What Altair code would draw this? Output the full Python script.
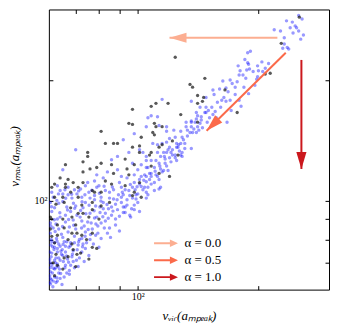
import math
import altair as alt
import pandas as pd

# ---- data (v_vir, v_max) ----
blue_points = [
    (252,290),(235,281),(240,270),(249,270),(219,267),(227,265),(252,265),(259,259),(232,255),(255,253),
    (232,246),(236,241),(238,239),(247,273),(257,284),(243,279),
    (191,236),(178,217),(180,211),(189,219),(190,213),(199,217),(200,211),(208,214),(205,210),(179,206),
    (199,204),(198,201),(184,192),(189,185),(179,178),(181,172),(163,199),(170,200),(172,196),(160,190),
    (168,187),(166,177),(170,178),(162,178),(161,171),(156,167),(153,171),(148,171),(136,177),(115,179),
    (141,163),(140,160),(157,161),(167,157),(185,225),(175,184),(151,161),(147,166),(171,168),(177,198),
    (186,202),(196,194),(166,191),(155,184),(149,157),(187,212),(188,221),(154,189),(148,181),(143,171),
    (140,166),(148,166),(154,164),(144,159),(136,157),(132,153),(135,148),(140,148),(145,152),(129,144),
    (124,144),(131,139),(125,136),(120,136),(118,132),(122,130),(129,129),(188,234),(204,222),
    (105,153),(113,154),(118,153),(118,149),(123,150),(128,149),(132,157),(136,158),(139,157),(143,156),
    (136,153),(137,148),(133,145),(130,142),(128,139),(125,139),(120,143),(118,140),(115,139),(112,138),
    (109,139),(112,132),(116,132),(119,134),(122,134),(126,136),(129,132),(128,130),(124,130),(120,128),
    (117,127),(114,129),(111,126),(108,126),(105,126),(117,124),(113,124),(110,121),(106,121),(116,119),
    (114,120),(119,119),(108,117),(105,115),(108,115),(112,115),(113,113),(110,111),(106,108),(114,108),
    (113,107),(136,135),(141,153),(142,150),(106,161),(112,162),(108,163),
    (70,134),(98,147),(92,142),(89,129),(86,126.5),(95,132),(101,134),(103,132),(105,129),(97,124),
    (102,123),(105,121),(89,119.5),(84,118),(79,116),(82,114),(91,115),(98,116),(102,115),(105,111.5),
    (101,110),(97,108),(91,108),(87,106.5),(79,108),(75.5,105),(67,103.5),(65,119.5),(72.5,102),(81,102),
    (92,103.5),(99,103.5),(105,105),(105,101.5),(85,101.5),(78,100.5),(68.5,101.5),
    (61,105),(63,109),(65,104),(69.5,106.5),(74,109),(76,101.5),(85,105),(90,111),(93,106.5),(98,111),
    (103,106.5),(106,103.5),(100,119.5),(104,116),(94,114),(91,102),(94,100.5),(97,101.5),(100,99),
    (92,96.5),(98,95),(93,93.5),(90,91.5),
    (63.5,98.5),(66.5,96.5),(74,99),(78.5,97),(82,95.5),(88,98),(93,96.5),(98,97.5),(101,94),(95.5,92),
    (61,94),(66,92),(72,94.5),(79,91),(83,93),(88,90),(92,93.5),(96,91),
    (62.5,87.5),(67.5,86),(72.5,89),(77,85),(81,88),(85,85.5),(88,87),(90,84),
    (60.5,83),(65,81),(74,83.5),(78.5,82),(81,80.5),(84,83),(85.5,81),
    (62,78.5),(64,77),(66.5,79),(71,77.5),(74,76),(77.5,78),(80,76.5),
    (61,74),(63.5,72),(66,74.5),(68.5,72.5),(72.5,74.5),(75.5,73),
    (60.5,70),(62.5,68),(64,71),(66,69),(69,70.5),(71,68.5),
    (60.5,66.5),(62,64.5),(63.5,66),(65.5,64.5),(67.5,67),
    (60.3,62.5),(61.4,61),(63,63),(64.7,61.8),
    (60.3,71.3),(61,69),(62,67.5),(60.3,65),(61.5,63),(63,69.5),(64,64),(62.5,72),(60.3,74.5),(62,76.5),
    (63,74.5),(60.7,77.5),
    (60.8,80),(62.7,80.5),(64.5,82.5),(67,83.5),(69.5,81.5),(71.5,80),(63.5,85),(66,88.5),(69,89.5),
    (70.5,92),(68,94),(64,91),(60.5,88),(62,96),(65,99.5),(70,97),(73,96),(76,93),(75,88.5),(79.5,86.5),
    (83,89),(86,92),(89,95),(82,99),(78,103),(86,96.5),(91,99),(94,97.5),(96.5,95.5),(99,101),(60.5,99),
    (61.5,102),(64,106),(67,108),(70.5,104),(72,107),(75,111),(78,112),(80,109),(83,106),(61.5,85.5),
    (63,90),(66,77),(69,75),(71.5,72),(73.5,70.5),(67.5,65.5),(69.5,68),(65,73),(60.5,68),(62,71),(63,76),
    (65.5,79),(68,78.5),(76,80),(73,78),(79.5,83),(82.5,85.5),
    (95,106),(100,104),(104,108),(108,110),(110,106),(101,113),(107,113),(111,116),(115,118),(118,122),
    (121,125),(125,126),(127,133),(131,135),
    (60.5,64),(61.2,66),(60.8,72.5),(61.8,75.5),(62.3,70),(63.8,67.5),(64.5,73.5),(65.2,70.5),(66.5,66),
    (60.6,62),(62.5,62.5),(61,79),(63.5,78),(64.8,75.5),(66.8,71.5),(68,69),(70.3,71),(67.3,76.5),
    (69.5,78.5),(72.5,80.5),(74.5,78.5),(70,85),(73.5,86.5),(76.5,88),(78,90.5),(80.5,93.5),(84.5,95.5),
    (87,101),(89.5,103.5),(95.5,103),(98.5,106.5),(102,108.5),
    (60.9,63.5),(62.8,64.2),(64.2,65.8),(61.6,67.8),(63.3,68.5),(65.8,68),(67.2,70.2),(68.7,73.5),
    (66.4,72.8),(64.3,74.8),(61.3,76.8),(62.9,79.2),(65.1,77.8),(67.9,77.2),(70.6,75.4),(72.8,76.8),
    (71.2,79),(73.9,81.5),(76.2,82.3),(75.2,84.8),(72.4,85.5),(69.2,86.8),(67.2,89.8),(64.9,86.2),
    (62.2,83.8),(60.7,86.5),(61.9,89.6),(63.9,93.3),(66.8,94.8),(69.6,95.7),(71.8,91),(74.2,92.8),
    (77.8,94.4),(80.4,96.5),(78.6,87.5),(81.8,91.2),(84.4,90.4),(86.7,94.2),(83.8,97.8),(80.9,99.8),
    (75.6,97.4),(72.6,99.4),(69.1,98.5),(66.1,101.4),(62.8,100.2),(60.9,96.6),(63.4,104),(65.8,106.5),
    (68.4,103.8),(71.2,105.8),(73.8,103.5),(76.8,106.2),(80.2,104.4),(82.4,108.6),(86.4,108.2),
    (88.8,100.6),(91.5,105),(95.8,109.8),(99.6,108.4),(103.5,112.5),(107,117),(110.5,118.5),
    (113.5,122),(116.5,129),(121,132),(124,128),(126.5,138),(133,150),(138,151),(144,162),(150,168),
    (158,176),(164,181),(175,192),(183,206),(194,210),(212,220),(230,240),(244,262),
]

black_points = [
    (253,287),(228,247),(214,208),(208,207),(177,166),
    (110,156),(111,153),(115,153),(109,148),(110,146),(122,141),(113,136),(115,138),(108,132),(107,130),
    (126,130),(108,122),(113,117),(120,115),(141,157),
    (124,228),(147,202),(135,195),(137,192),(165,189),(141,183),(146,181),(145,177),(141,175),(108,172),
    (111,175),(119,175),(128,164),
    (95,156),(97,155),(81,149),(83,139),(87,139),(89,139),(101,137),(101,132),(75,132),(75,129),(73,125),
    (66,123),(98,123),(93,127),(81,124),(79,121),(86,123),(76,120),(73,118),(87,117),(94,120),(95,116),
    (64,114),(67,113),(62,110),(66,110),(69,111),(73,111),(83,112),(86,110),(93,109),(101,111),(71,108),
    (61,108),(66,108),(68,105),(77,106),(78,105),(81,105),(97,103),(98,105),(65,102),(62,102),(71,102),
    (97,169),(102,144),(97,136),(102,102),
    (62.5,98),(65.5,99),(72.5,97.5),(77,99),(81,97),(85,99),(68,96),(71,93),(73,93),(77,95),(61,90),
    (65,90),(68.5,91),(75.5,91),(80,90),(63,87),(70,87),(65.5,85.5),(70.5,83),(68.5,83),(72.5,82),(63,82),
    (77,83),(61,81.5),(67,80),(62,78.5),(68.5,78),(69,75.5),(67,72.5),(62.5,73.5),(65.5,72),(70.5,73.5),
    (77,76.5),(75.5,71.5),(63,69),(65,67.5),(62,65),
    (60.5,91),(60.5,85),(61.5,70),(70,68.5),(72,74),(79,76),(74.5,80),
]

alpha_labels = ["0.0", "0.5", "1.0"]
arrow_colors = ["#fcae91", "#fb6a4a", "#cb181d"]
arrow_tail_vvir = [223, 234, 256]
arrow_tail_vmax = [255, 234, 224.5]
arrow_tip_vvir = [120, 148.5, 256]
arrow_tip_vmax = [255, 149.5, 120]

axis_domain = [60, 300]
tick_values = [70, 80, 90, 100, 200]

# ---- tables ----
blue_df = pd.DataFrame(blue_points, columns=["vvir", "vmax"])
black_df = pd.DataFrame(black_points, columns=["vvir", "vmax"])
# both axes span the same decades over the same length, so screen direction = log ratio
angles = [
    math.degrees(math.atan2(math.log10(tx / sx), math.log10(ty / sy))) % 360
    for sx, sy, tx, ty in zip(arrow_tail_vvir, arrow_tail_vmax, arrow_tip_vvir, arrow_tip_vmax)
]
arrow_df = pd.DataFrame({
    "alpha": alpha_labels,
    "alpha_line": alpha_labels,
    "x1": arrow_tail_vvir, "y1": arrow_tail_vmax,
    "x2": arrow_tip_vvir, "y2": arrow_tip_vmax,
    "angle": angles,
})

FONT = "Liberation Serif"
xs = alt.Scale(type="log", domain=axis_domain, nice=False)
ys = alt.Scale(type="log", domain=axis_domain, nice=False)
label_expr = "datum.value == 100 ? '10²' : ''"
common = dict(values=tick_values, offset=-4, tickSize=4, domain=False, grid=False,
              tickColor="black", tickWidth=1)

x_bottom = alt.Axis(orient="bottom", labelExpr=label_expr, labelPadding=2, labelFont=FONT,
                    labelFontSize=10, labelColor="black", labelOverlap=False, labelFlush=False,
                    title="vᵥᵢᵣ(aₘₚₑₐₖ)", titleFont=FONT, titleFontSize=13,
                    titleFontWeight="normal", titleFontStyle="italic", titleColor="black",
                    titleX=140.5, titleY=24, titleBaseline="top", **common)
y_left = alt.Axis(orient="left", labelExpr=label_expr, labelPadding=2, labelFont=FONT,
                  labelFontSize=10, labelColor="black", labelOverlap=False, labelFlush=False,
                  title="vₘₐₓ(aₘₚₑₐₖ)", titleFont=FONT, titleFontSize=13,
                  titleFontWeight="normal", titleFontStyle="italic", titleColor="black",
                  titleX=-31, titleY=147, **common)
x_top = alt.Axis(orient="top", labels=False, title=None, **common)
y_right = alt.Axis(orient="right", labels=False, title=None, **common)

blue = alt.Chart(blue_df).mark_circle(size=12, color="#0000ff", opacity=0.4, clip=True).encode(
    x=alt.X("vvir:Q", scale=xs, axis=x_bottom),
    y=alt.Y("vmax:Q", scale=ys, axis=y_left),
)
black = alt.Chart(black_df).mark_circle(size=11, color="#000000", opacity=0.65, clip=True).encode(
    x=alt.X("vvir:Q", scale=xs, axis=x_top),
    y=alt.Y("vmax:Q", scale=ys, axis=y_right),
)
rules = alt.Chart(arrow_df).mark_rule(strokeWidth=2).encode(
    x=alt.X("x1:Q", scale=xs, axis=None), x2="x2:Q",
    y=alt.Y("y1:Q", scale=ys, axis=None), y2="y2:Q",
    stroke=alt.Stroke("alpha_line:N", scale=alt.Scale(domain=alpha_labels, range=arrow_colors),
                      legend=None),
)
heads = alt.Chart(arrow_df).mark_point(
    shape="M0,0L0.6,2L-0.6,2Z", filled=True, size=290, opacity=1, strokeWidth=0
).encode(
    x=alt.X("x2:Q", scale=xs, axis=None),
    y=alt.Y("y2:Q", scale=ys, axis=None),
    angle=alt.Angle("angle:Q", scale=None),
    color=alt.Color("alpha:N", scale=alt.Scale(domain=alpha_labels, range=arrow_colors),
                    legend=alt.Legend(
        orient="none", legendX=111, legendY=228, title=None, padding=0,
        symbolType="M-2,-0.16L0.65,-0.16L0.65,-0.62L2,0L0.65,0.62L0.65,0.16L-2,0.16Z",
        symbolSize=144, symbolStrokeWidth=0, symbolOpacity=1,
        labelFont=FONT, labelFontSize=13, labelColor="black",
        labelExpr="'α = ' + datum.label", labelOffset=12, rowPadding=3,
    )),
)

chart = alt.layer(blue, black, rules, heads).resolve_axis(
    x="independent", y="independent"
).resolve_scale(color="independent", stroke="independent").properties(
    width=281, height=281,
    autosize=alt.AutoSizeParams(type="none"),
    padding={"left": 41, "top": 1, "right": 3, "bottom": 33},
).configure_view(stroke="black", strokeWidth=1)

chart.save("out.html", embed_options={"renderer": "svg", "actions": False})
